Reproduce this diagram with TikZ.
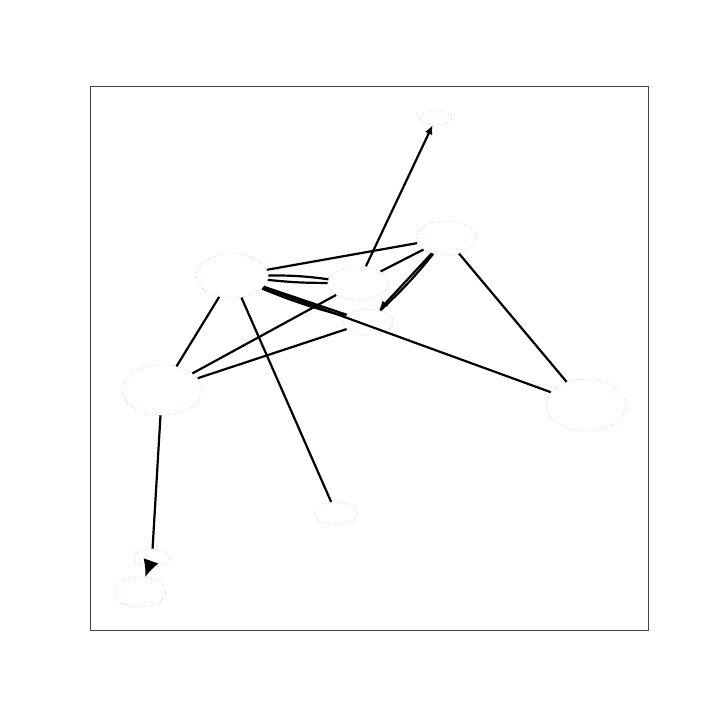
\documentclass[tikz,border=0pt]{standalone}
\usepackage{tikz}
\usetikzlibrary{arrows.meta,positioning,shapes.geometric}
\definecolor{NodoRim}{HTML}{E8A0B8}
\definecolor{MarcoGris}{HTML}{444444}

\begin{document}
\begin{tikzpicture}[
  x=0.5pt,y=-0.5pt,
  nodo/.style={ellipse,draw=NodoRim,densely dotted,line width=0.3pt,inner sep=0pt},
  arista/.style={line width=1.1pt,draw=black},
  flecha/.style={arista,-{Latex[length=1.6mm,width=1.4mm]}},
  flechagrande/.style={arista,-{Latex[length=3mm,width=2.8mm]}}
]
\useasboundingbox (0,0) rectangle (720,720);
\draw[MarcoGris,line width=0.4pt] (90,86) rectangle (648,630);
\node[nodo,minimum width=16pt,minimum height=7pt] (cima) at (436,118) {};
\node[nodo,minimum width=36pt,minimum height=22pt] (oeste) at (232,276) {};
\node[nodo,minimum width=30pt,minimum height=17pt] (este) at (446,238) {};
\node[nodo,minimum width=30pt,minimum height=17pt] (centro) at (358,283) {};
\node[nodo,minimum width=25pt,minimum height=13pt] (bajo) at (368,322) {};
\node[nodo,minimum width=40pt,minimum height=25pt] (izq) at (162,390) {};
\node[nodo,minimum width=40pt,minimum height=26pt] (der) at (586,405) {};
\node[nodo,minimum width=22pt,minimum height=11pt] (sur) at (336,513) {};
\node[nodo,minimum width=18pt,minimum height=9pt] (enlace) at (152,558) {};
\node[nodo,minimum width=26pt,minimum height=15pt] (fondo) at (140,592) {};
\draw[flecha] (centro) -- (cima);
\foreach \a/\b in {oeste/este,oeste/izq,oeste/sur,oeste/der,este/der,izq/centro,izq/bajo,este/centro,izq/enlace}
  \draw[arista] (\a) -- (\b);
\draw[arista] (oeste) to[bend left=4] (centro);
\draw[arista] (oeste) to[bend right=3] (centro);
\draw[arista] (oeste) -- (bajo);
\draw[arista] (oeste) to[bend right=4] (bajo);
\draw[flecha] (este) -- (bajo);
\draw[arista] (este) to[bend left=4] (bajo);
\draw[flechagrande] (enlace) -- (fondo);
\end{tikzpicture}
\end{document}
